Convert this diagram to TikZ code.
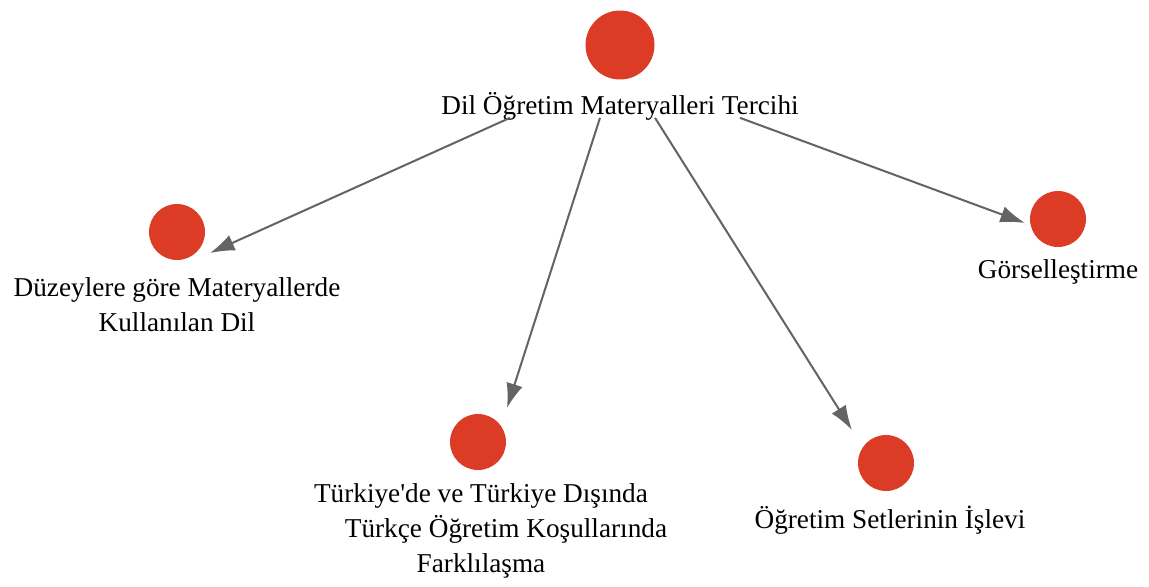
\documentclass[tikz,border=0pt]{standalone}
\usepackage{fontspec}
\setmainfont{Liberation Serif}
\usetikzlibrary{arrows.meta}
\definecolor{nodered}{HTML}{DC3C26}
\definecolor{arrowgray}{HTML}{646464}

\begin{document}
\begin{tikzpicture}[x=0.02cm, y=-0.02cm, >={Latex[length=14pt,width=9.5pt]},
  topic/.style={circle, fill=nodered, inner sep=0pt, minimum size=\nodesize},
  lbl/.style={align=center, inner sep=0pt, font=\fontsize{15.5}{20}\selectfont},
  link/.style={->, arrowgray, line width=1.15pt}]
\def\nodesize{1.12cm}
\useasboundingbox (0,0) rectangle (1149,586);

%Root
\node (root) at (620,45) [topic, minimum size=1.38cm] {};
\node (rootlbl) at (620,106) [lbl] {Dil Öğretim Materyalleri Tercihi};

%Level 1
\node (dil) at (177,232) [topic] {};
\node (dillbl) at (177,305) [lbl] {Düzeylere göre Materyallerde\\Kullanılan Dil};

\node (kosul) at (478,442) [topic] {};
\node (kosullbl) at (481,531) [lbl] {Türkiye\textquotesingle de ve Türkiye Dışında\\\hspace*{1cm}Türkçe Öğretim Koşullarında\\Farklılaşma};

\node (setler) at (886,463) [topic] {};
\node (setlerlbl) at (890,520) [lbl] {Öğretim Setlerinin İşlevi};

\node (gorsel) at (1058,219) [topic] {};
\node (gorsellbl) at (1058,272) [lbl] {Görselleştirme};

%Arrow ends
\coordinate (from1) at ([xshift=-2.2cm, yshift=0.05cm]rootlbl.south);
\coordinate (from2) at ([xshift=-0.4cm, yshift=0.05cm]rootlbl.south);
\coordinate (from3) at ([xshift=0.7cm, yshift=0.05cm]rootlbl.south);
\coordinate (from4) at ([xshift=2.4cm, yshift=0.05cm]rootlbl.south);
\coordinate (to1) at ([shift={(0.66cm,-0.42cm)}]dil.center);
\coordinate (to2) at ([shift={(0.58cm,0.68cm)}]kosul.center);
\coordinate (to3) at ([shift={(-0.68cm,0.66cm)}]setler.center);
\coordinate (to4) at ([shift={(-0.66cm,-0.08cm)}]gorsel.center);

\draw[link] (from1) -- (to1);
\draw[link] (from2) -- (to2);
\draw[link] (from3) -- (to3);
\draw[link] (from4) -- (to4);
\end{tikzpicture}
\end{document}
